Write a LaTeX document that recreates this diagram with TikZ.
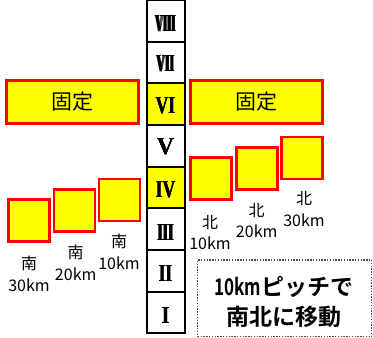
\documentclass[tikz,border=0pt]{standalone}
\usepackage{fontspec}
\setmainfont{Liberation Serif}
\newfontfamily\jp{Noto Sans CJK JP}
\newfontfamily\jpbold{Noto Sans CJK JP Bold}
\newfontfamily\romfont{Liberation Serif}
\definecolor{yel}{RGB}{255,255,0}
\definecolor{rd}{RGB}{255,0,0}
\newsavebox{\rnbox}
% #1 = width of one copy, #2 = half of the horizontal thickening, #3 = numeral
\newcommand{\rn}[3]{\sbox{\rnbox}{\resizebox{#1pt}{16pt}{\romfont\bfseries #3}}%
  \rlap{\usebox{\rnbox}}\kern#2pt\rlap{\usebox{\rnbox}}\kern#2pt\usebox{\rnbox}}
\begin{document}
\begin{tikzpicture}[x=1pt,y=-1pt,
  cell/.style={draw=black,line width=2pt,minimum width=38pt,minimum height=41.67pt,inner sep=0pt},
  ycell/.style={cell,fill=yel},
  numeral/.style={inner sep=0pt},
  fixbox/.style={draw=rd,fill=yel,line width=2.5pt,minimum width=132pt,minimum height=43pt,inner sep=0pt,font=\jp\fontsize{21}{24}\selectfont},
  sq/.style={draw=rd,fill=yel,line width=2.5pt,minimum width=41pt,minimum height=42pt,inner sep=0pt},
  lbl/.style={align=center,inner sep=0pt,font=\jp\fontsize{16}{21.5}\selectfont},
  note/.style={draw=black!70,line width=1.4pt,dash pattern=on 1.4pt off 1.4pt,minimum width=174pt,minimum height=76.7pt,inner sep=0pt},
  notetext/.style={align=center,inner sep=0pt,font=\jpbold\fontsize{23}{30}\selectfont}]
\useasboundingbox (0,0) rectangle (373,338);
% column
\node[cell]  (c8) at (165.5,20.83) {};
\node[cell]  (c7) at (165.5,62.5) {};
\node[ycell] (c6) at (165.5,104.17) {};
\node[cell]  (c5) at (165.5,145.83) {};
\node[ycell] (c4) at (165.5,187.5) {};
\node[cell]  (c3) at (165.5,229.17) {};
\node[cell]  (c2) at (165.5,270.83) {};
\node[cell]  (c1) at (165.5,312.5) {};
\node[numeral] (n8) at ([yshift=-3pt]c8.center) {\rn{20.1}{0.8}{VIII}};
\node[numeral] (n7) at ([yshift=-1pt]c7.center) {\rn{17.6}{0.7}{VII}};
\node[numeral] (n6) at ([yshift=-2pt]c6.center) {\rn{19.6}{0.2}{VI}};
\node[numeral] (n5) at ([yshift=-1pt]c5.center) {\rn{17.3}{0}{V}};
\node[numeral] (n4) at ([yshift=-2pt]c4.center) {\rn{19.6}{0.2}{IV}};
\node[numeral] (n3) at ([yshift=-3pt]c3.center) {\rn{16.1}{0.6}{III}};
\node[numeral] (n2) at ([yshift=-3pt]c2.center) {\rn{13.4}{0.3}{II}};
\node[numeral] (n1) at ([yshift=-3pt]c1.center) {\rn{8}{0}{I}};
% fixed boxes
\node[fixbox] (fl) at (72.5,102) {固定};
\node[fixbox] (fr) at (256.3,102) {固定};
% south squares
\node[sq] (s1) at (119.5,200) {};
\node[sq] (s2) at (74.5,210.3) {};
\node[sq] (s3) at (29,220.7) {};
% north squares
\node[sq] (r1) at (211,178.7) {};
\node[sq] (r2) at (256.8,168.3) {};
\node[sq] (r3) at (302.2,158) {};
% labels
\node[lbl] (ls1) at (119,252) {南\\10km};
\node[lbl] (ls2) at (75.7,263) {南\\20km};
\node[lbl] (ls3) at (29,274) {南\\30km};
\node[lbl] (lr1) at (210,232.3) {北\\10km};
\node[lbl] (lr2) at (256.7,220.5) {北\\20km};
\node[lbl] (lr3) at (304,209) {北\\30km};
% note
\node[note] (nb) at (284.7,298.3) {};
\node[notetext] (nt) at (284,301.7) {\scalebox{0.74}[1]{10km}ピッチで\\南北に移動};
\end{tikzpicture}
\end{document}
